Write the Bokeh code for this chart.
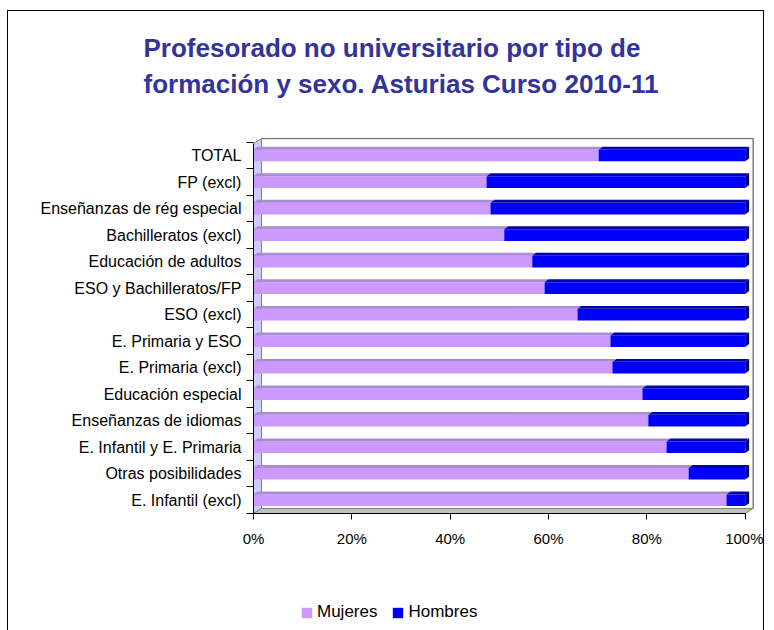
from bokeh.plotting import figure
from bokeh.layouts import column
from bokeh.models import (ColumnDataSource, FixedTicker, Legend, LegendItem,
                          Range1d, Title)
from bokeh.embed import file_html
from bokeh.resources import INLINE

# ---- data (top to bottom as shown) ----
categories = [
    "TOTAL",
    "FP (excl)",
    "Enseñanzas de rég especial",
    "Bachilleratos (excl)",
    "Educación de adultos",
    "ESO y Bachilleratos/FP",
    "ESO (excl)",
    "E. Primaria y ESO",
    "E. Primaria (excl)",
    "Educación especial",
    "Enseñanzas de idiomas",
    "E. Infantil y E. Primaria",
    "Otras posibilidades",
    "E. Infantil (excl)",
]
mujeres = [70.2, 47.4, 48.2, 51.0, 56.7, 59.2, 65.9, 72.6, 73.0, 79.1, 80.3, 84.0, 88.5, 96.2]
hombres = [29.8, 52.6, 51.8, 49.0, 43.3, 40.8, 34.1, 27.4, 27.0, 20.9, 19.7, 16.0, 11.5, 3.8]
x_ticks = [0, 20, 40, 60, 80, 100]
x_tick_labels = ["0%", "20%", "40%", "60%", "80%", "100%"]
title_lines = ["Profesorado no universitario por tipo de",
               "formación y sexo. Asturias Curso 2010-11"]
series_names = ["Mujeres", "Hombres"]

C_M = "#CC99FF"
C_H = "#0000FF"
C_M_TOP = "#A98BD6"
C_H_TOP = "#0000B0"
C_SIDE = "#000080"
FONT = "Liberation Sans"

n = len(categories)
ys = [n - 1 - k for k in range(n)]
left_h = mujeres[:]
right_h = [m + h for m, h in zip(mujeres, hombres)]

H = 0.44
DXB, DYB = 0.8, 0.11     # bar depth
DXW, DYW = 1.63, 0.19    # wall depth
Y0, YTOP = -0.5, 13.45

p = figure(width=757, height=550, output_backend="svg", toolbar_location=None,
           title=None,
           x_range=Range1d(0, 102.1), y_range=Range1d(-0.5, 13.68),
           min_border_left=245, min_border_right=10, min_border_top=126,
           min_border_bottom=48)
p.styles = {"border-left": "1px solid #000", "border-top": "1px solid #000",
            "border-right": "1px solid #000"}
p.outline_line_color = None
p.grid.visible = False
p.background_fill_color = "white"
p.border_fill_color = "white"

# walls
p.patch([0, 0, DXW, DXW], [Y0, YTOP, YTOP + DYW, Y0 + DYW],
        fill_color="#CCCCFF", line_color="#808080", line_width=1)
p.patch([0, 100, 100 + DXW, DXW], [Y0, Y0, Y0 + DYW, Y0 + DYW],
        fill_color="#C0C0C0", line_color="#808080", line_width=1)
p.line([DXW, 100 + DXW, 100 + DXW], [YTOP + DYW, YTOP + DYW, Y0 + DYW],
       line_color="#808080", line_width=1.5)

# bars (front faces)
src = ColumnDataSource(dict(y=ys, m=mujeres, l=left_h, r=right_h))
p.hbar(y="y", left=0, right="m", height=H, source=src,
       fill_color=C_M, line_color=None)
p.hbar(y="y", left="l", right="r", height=H, source=src,
       fill_color=C_H, line_color=None)

# top faces and right side faces
xs_mt, ys_mt, xs_ht, ys_ht, xs_s, ys_s = [], [], [], [], [], []
for y, m, r in zip(ys, mujeres, right_h):
    yt = y + H / 2
    yb = y - H / 2
    xs_mt.append([0, m, m + DXB, DXB])
    ys_mt.append([yt, yt, yt + DYB, yt + DYB])
    xs_ht.append([m, r, r + DXB, m + DXB])
    ys_ht.append([yt, yt, yt + DYB, yt + DYB])
    xs_s.append([r, r, r + DXB, r + DXB])
    ys_s.append([yb, yt, yt + DYB, yb + DYB])
p.patches(xs_mt, ys_mt, fill_color=C_M_TOP, line_color=None)
p.patches(xs_ht, ys_ht, fill_color=C_H_TOP, line_color=None)
p.patches(xs_s, ys_s, fill_color=C_SIDE, line_color=None)

# axes
xa = p.xaxis[0]
xa.ticker = FixedTicker(ticks=x_ticks)
xa.major_label_overrides = {t: s for t, s in zip(x_ticks, x_tick_labels)}
xa.bounds = (0, 100)
xa.major_tick_in = 0
xa.major_tick_out = 6
xa.minor_tick_line_color = None
xa.major_label_standoff = 10
xa.major_label_text_font = FONT
xa.major_label_text_font_size = "15px"
xa.major_label_text_color = "#000000"
xa.axis_line_color = "#000000"

ya = p.yaxis[0]
ya.ticker = FixedTicker(ticks=ys, minor_ticks=[k - 0.5 for k in range(n + 1)])
ya.major_label_overrides = {y: c for y, c in zip(ys, categories)}
ya.bounds = (Y0, YTOP)
ya.major_tick_line_color = None
ya.major_tick_in = 0
ya.major_tick_out = 0
ya.minor_tick_in = 0
ya.minor_tick_out = 7
ya.minor_tick_line_color = "#000000"
ya.major_label_standoff = 5
ya.major_label_text_font = FONT
ya.major_label_text_font_size = "16px"
ya.major_label_text_color = "#000000"
ya.axis_line_color = "#000000"

# title (above panel, stacked outward from the frame)
p.add_layout(Title(text=" ", text_font_size="20px"), "above")
p.add_layout(Title(text="\n".join(title_lines), align="left", offset=-110,
                   text_font=FONT, text_font_style="bold",
                   text_font_size="26px", text_line_height=1.2,
                   text_color="#333399"), "above")

# legend strip
q = figure(width=757, height=70, output_backend="svg", toolbar_location=None,
           x_axis_type=None, y_axis_type=None, title=None,
           x_range=Range1d(0, 1), y_range=Range1d(100, 101),
           min_border=0, min_border_left=0, min_border_right=0,
           min_border_top=0, min_border_bottom=0)
q.styles = {"border-left": "1px solid #000", "border-right": "1px solid #000"}
q.outline_line_color = None
q.grid.visible = False
lm = q.hbar(y="y", left=0, right="m", height=H, source=src,
            fill_color=C_M, line_color=None)
lh = q.hbar(y="y", left="l", right="r", height=H, source=src,
            fill_color=C_H, line_color=None)
legend = Legend(items=[LegendItem(label=series_names[0], renderers=[lm]),
                       LegendItem(label=series_names[1], renderers=[lh])],
                orientation="horizontal", location=(47, 8),
                glyph_width=13, glyph_height=13, label_standoff=4, spacing=14,
                padding=2, margin=0, border_line_color=None,
                background_fill_alpha=0,
                label_text_font=FONT, label_text_font_size="17px",
                label_text_color="#000000")
q.add_layout(legend)

layout = column(p, q, spacing=0, margin=(10, 0, 0, 7))
open("out.html", "w").write(file_html(layout, INLINE))
